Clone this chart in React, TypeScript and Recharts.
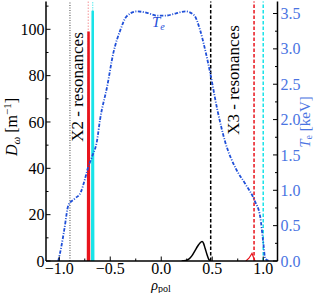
import React from 'react';
import { ComposedChart, Line, XAxis, YAxis, ReferenceLine } from 'recharts';

// Electron temperature profile T_e [keV] vs rho_pol
const teRho = [-1.01, -0.98, -0.95, -0.91, -0.85, -0.79, -0.75, -0.72, -0.68, -0.63, -0.6, -0.53, -0.47, -0.4, -0.34, -0.24, -0.14, -0.04, 0.04, 0.14, 0.24, 0.32, 0.38, 0.43, 0.48, 0.55, 0.63, 0.73, 0.82, 0.92, 0.97, 1.0, 1.02, 1.06];
const teKeV = [0, 0.2, 0.45, 0.79, 0.88, 0.97, 1.15, 1.31, 1.47, 1.7, 2.0, 2.47, 2.94, 3.27, 3.46, 3.53, 3.51, 3.47, 3.47, 3.5, 3.53, 3.48, 3.27, 2.99, 2.66, 2.14, 1.67, 1.31, 1.1, 0.84, 0.63, 0.27, 0.03, 0];

// X3 absorption (black)
const x3Rho = [0.2, 0.24, 0.27, 0.3, 0.33, 0.36, 0.38, 0.4, 0.415, 0.43, 0.45, 0.465, 0.48];
const x3D = [0, 0.2, 0.8, 2.2, 4.4, 6.6, 7.8, 8.4, 7.6, 5.5, 2.6, 0.8, 0];

// X3 absorption (red, small)
const x3RedRho = [0.83, 0.86, 0.89, 0.905, 0.92];
const x3RedD = [0, 1.2, 3.3, 1.5, 0];

// X2 absorption spikes
const x2RedRho = [-0.718, -0.713, -0.708];
const x2RedD = [0, 99, 0];
const x2CyanRho = [-0.677, -0.672, -0.667];
const x2CyanD = [0, 108, 0];

// resonance positions
const greyRes = -0.895;
const x2RedRes = -0.716;
const x2CyanRes = -0.672;
const x3BlackRes = 0.485;
const x3RedRes = 0.91;
const x3CyanRes = 1.0;

// ticks
const xMajor = [-1, -0.5, 0, 0.5, 1];
const xMinor = [-0.75, -0.25, 0.25, 0.75];
const xTickLabels = ['\u22121.0', '\u22120.5', '0.0', '0.5', '1.0'];
const leftMajor = [0, 20, 40, 60, 80, 100];
const leftMinor = [10, 30, 50, 70, 90, 110];
const rightMajor = [0, 0.5, 1, 1.5, 2, 2.5, 3, 3.5];
const rightMinor = [0.25, 0.75, 1.25, 1.75, 2.25, 2.75, 3.25];

const SERIF = '"Liberation Serif", "DejaVu Serif", serif';
const BLUE = '#1f4fd8';
const BLUE_TXT = '#4a74e2';
const RED = '#e8141c';
const CYAN = '#19e3e8';

const toPts = (xs: number[], ys: number[]) => xs.map((x, i) => ({ x, y: ys[i] }));

const teData = toPts(teRho, teKeV);
const x3Data = toPts(x3Rho, x3D);
const x3RedData = toPts(x3RedRho, x3RedD);
const x2RedData = toPts(x2RedRho, x2RedD);
const x2CyanData = toPts(x2CyanRho, x2CyanD);

const XTickBottom = (props: any) => {
  const { x, y, payload } = props;
  const i = xMajor.indexOf(payload.value);
  const major = i >= 0;
  return (
    <g>
      <line x1={x} x2={x} y1={y} y2={y - (major ? 4.5 : 2.5)} stroke="#000" strokeWidth={1} />
      {major && (
        <text x={x} y={y + 13} textAnchor="middle" fontSize={16} fontFamily={SERIF} fill="#000">
          {xTickLabels[i]}
        </text>
      )}
    </g>
  );
};

const XTickTop = (props: any) => {
  const { x, y, payload } = props;
  const major = xMajor.indexOf(payload.value) >= 0;
  return <line x1={x} x2={x} y1={y} y2={y + (major ? 4.5 : 2.5)} stroke="#000" strokeWidth={1} />;
};

const YTickLeft = (props: any) => {
  const { x, y, payload } = props;
  const major = leftMajor.indexOf(payload.value) >= 0;
  return (
    <g>
      <line x1={x} x2={x + (major ? 4.5 : 2.5)} y1={y} y2={y} stroke="#000" strokeWidth={1} />
      {major && (
        <text x={x - 1.5} y={y} dy="0.35em" textAnchor="end" fontSize={16} fontFamily={SERIF} fill="#000">
          {String(payload.value)}
        </text>
      )}
    </g>
  );
};

const YTickRight = (props: any) => {
  const { x, y, payload } = props;
  const major = rightMajor.indexOf(payload.value) >= 0;
  return (
    <g>
      <line x1={x} x2={x - (major ? 4.5 : 2.5)} y1={y} y2={y} stroke="#000" strokeWidth={1} />
      {major && (
        <text x={x + 3} y={y} dy="0.35em" textAnchor="start" fontSize={16} fontFamily={SERIF} fill={BLUE_TXT}>
          {payload.value.toFixed(1)}
        </text>
      )}
    </g>
  );
};

export default function App() {
  const axisLine = { stroke: '#000', strokeWidth: 1.5 };
  return (
    <div style={{ position: 'absolute', left: 0, top: 0, width: 315, height: 293, background: '#fff' }}>
      <ComposedChart
        width={315}
        height={293}
        margin={{ top: 1.5, right: 0, bottom: 0, left: 0 }}
      >
        <XAxis
          xAxisId="b"
          type="number"
          dataKey="x"
          domain={[-1.13, 1.14]}
          allowDataOverflow
          ticks={[...xMajor, ...xMinor].sort((a, b) => a - b)}
          interval={0}
          tickSize={0}
          tickMargin={0}
          tickLine={false}
          tick={<XTickBottom />}
          axisLine={axisLine}
          height={32}
        />
        <XAxis
          xAxisId="t"
          orientation="top"
          type="number"
          dataKey="x"
          domain={[-1.13, 1.14]}
          allowDataOverflow
          ticks={[...xMajor, ...xMinor].sort((a, b) => a - b)}
          interval={0}
          tickSize={0}
          tickMargin={0}
          tickLine={false}
          tick={<XTickTop />}
          axisLine={axisLine}
          height={0}
        />
        <YAxis
          yAxisId="l"
          type="number"
          domain={[0, 112]}
          allowDataOverflow
          ticks={[...leftMajor, ...leftMinor].sort((a, b) => a - b)}
          interval={0}
          tickSize={0}
          tickMargin={0}
          tickLine={false}
          tick={<YTickLeft />}
          axisLine={axisLine}
          width={46}
        />
        <YAxis
          yAxisId="r"
          orientation="right"
          type="number"
          domain={[0, 3.67]}
          allowDataOverflow
          ticks={[...rightMajor, ...rightMinor].sort((a, b) => a - b)}
          interval={0}
          tickSize={0}
          tickMargin={0}
          tickLine={false}
          tick={<YTickRight />}
          axisLine={axisLine}
          width={37.5}
        />

        <ReferenceLine xAxisId="b" yAxisId="l" x={greyRes} stroke="#444" strokeWidth={1} strokeDasharray="1 1.5" />
        <ReferenceLine xAxisId="b" yAxisId="l" x={x2RedRes} stroke={RED} strokeOpacity={0.45} strokeWidth={1} strokeDasharray="1.5 1.5" />
        <ReferenceLine xAxisId="b" yAxisId="l" x={x2CyanRes} stroke={CYAN} strokeOpacity={0.6} strokeWidth={1.2} strokeDasharray="1.5 1" />
        <ReferenceLine xAxisId="b" yAxisId="l" x={x3BlackRes} stroke="#000" strokeWidth={1.5} strokeDasharray="3.5 2" />
        <ReferenceLine xAxisId="b" yAxisId="l" x={x3RedRes} stroke={RED} strokeWidth={1.5} strokeDasharray="3.5 2" />
        <ReferenceLine xAxisId="b" yAxisId="l" x={x3CyanRes} stroke={CYAN} strokeWidth={1.5} strokeDasharray="3.5 2" />

        <Line xAxisId="b" yAxisId="l" data={x2RedData} dataKey="y" type="linear" stroke={RED} strokeWidth={2.5} dot={false} isAnimationActive={false} />
        <Line xAxisId="b" yAxisId="l" data={x2CyanData} dataKey="y" type="linear" stroke={CYAN} strokeWidth={2.5} dot={false} isAnimationActive={false} />
        <Line xAxisId="b" yAxisId="l" data={x3Data} dataKey="y" type="monotone" stroke="#000" strokeWidth={1.5} dot={false} isAnimationActive={false} />
        <Line xAxisId="b" yAxisId="l" data={x3RedData} dataKey="y" type="linear" stroke={RED} strokeWidth={1.2} dot={false} isAnimationActive={false} />
        <Line xAxisId="b" yAxisId="r" data={teData} dataKey="y" type="monotone" stroke={BLUE} strokeWidth={1.8} strokeDasharray="3.5 1.5 1 1.5" dot={false} isAnimationActive={false} />
      </ComposedChart>

      <svg width={315} height={293} style={{ position: 'absolute', left: 0, top: 0, pointerEvents: 'none' }}>
        <text x={152} y={27} fontSize={15} fontFamily={SERIF} fontStyle="italic" fill={BLUE}>
          T<tspan fontSize={10} dy={3}>e</tspan>
        </text>
        <text x={77.5} y={87} transform="rotate(-90 77.5 87)" textAnchor="middle" dominantBaseline="central" fontSize={17} fontFamily={SERIF} fill="#000">
          X2 - resonances
        </text>
        <text x={233} y={80} transform="rotate(-90 233 80)" textAnchor="middle" dominantBaseline="central" fontSize={17} fontFamily={SERIF} fill="#000">
          X3 - resonances
        </text>
        <text x={17} y={127} transform="rotate(-90 17 127)" textAnchor="middle" fontSize={16} fontFamily={SERIF} fill="#000">
          <tspan fontStyle="italic">D</tspan>
          <tspan fontStyle="italic" fontSize={11} dy={3}>ω</tspan>
          <tspan dy={-3}> [m</tspan>
          <tspan fontSize={11} dy={-6}>−1</tspan>
          <tspan dy={6}>]</tspan>
        </text>
        <text x={310} y={122} transform="rotate(-90 310 122)" textAnchor="middle" fontSize={15} fontFamily={SERIF} fill={BLUE_TXT}>
          <tspan fontStyle="italic">T</tspan>
          <tspan fontSize={10} dy={2}>e</tspan>
          <tspan dy={-2}> [keV]</tspan>
        </text>
        <text x={161} y={289.5} textAnchor="middle" fontSize={14} fontFamily={SERIF} fill="#000">
          <tspan fontStyle="italic">ρ</tspan>
          <tspan fontSize={10} dy={2}>pol</tspan>
        </text>
      </svg>
    </div>
  );
}
